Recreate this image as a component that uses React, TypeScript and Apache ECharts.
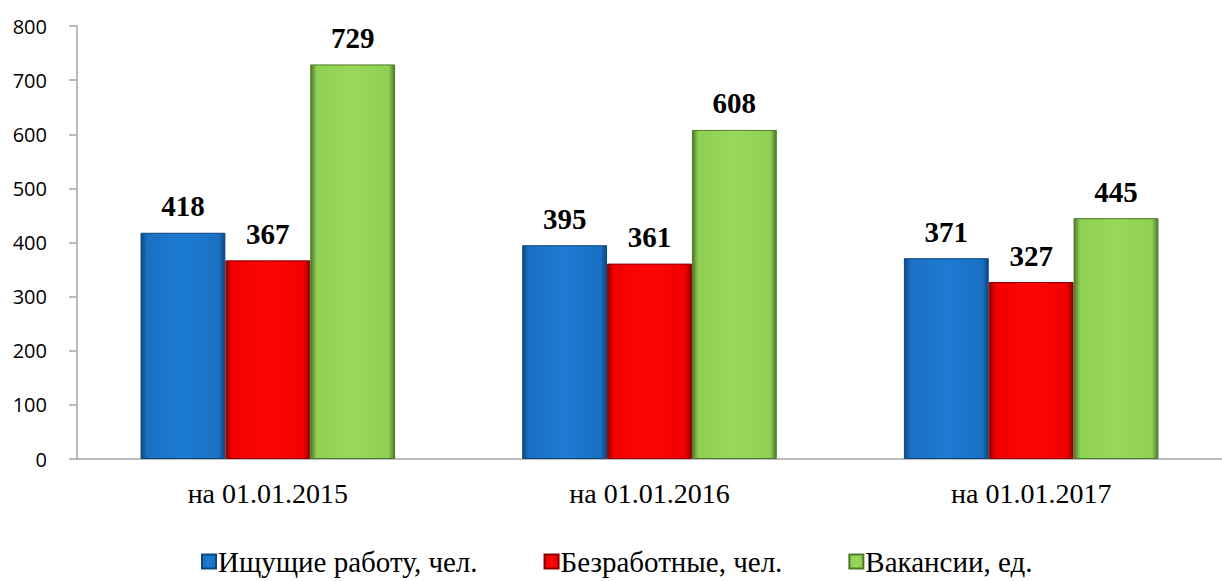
import React, { useEffect, useRef } from "react";
import * as echarts from "echarts";

const categories = ["на 01.01.2015", "на 01.01.2016", "на 01.01.2017"];
const seekers = [418, 395, 371];
const unemployed = [367, 361, 327];
const vacancies = [729, 608, 445];
const seriesNames = ["Ищущие работу, чел.", "Безработные, чел.", "Вакансии, ед."];

function bevel(dark: string, main: string, light: string) {
  return new echarts.graphic.LinearGradient(1, 0, 0, 0, [
    { offset: 0, color: dark },
    { offset: 0.07, color: main },
    { offset: 0.5, color: light },
    { offset: 0.93, color: main },
    { offset: 1, color: dark },
  ]);
}

export default function App() {
  const ref = useRef<HTMLDivElement>(null);
  useEffect(() => {
    document.body.style.margin = "0";
    const chart = echarts.init(ref.current!, undefined, { renderer: "svg" });
    const mk = (name: string, data: number[], dark: string, main: string, light: string) => ({
      name,
      type: "bar",
      data,
      barGap: "0%",
      barCategoryGap: "33.3%",
      label: {
        show: true,
        position: "top",
        distance: 12,
        fontFamily: "Liberation Serif",
        fontWeight: "bold",
        fontSize: 29,
        color: "#000",
      },
      itemStyle: { color: bevel(dark, main, light), borderColor: dark, borderWidth: 1 },
    });
    chart.setOption({
      animation: false,
      grid: { left: 77, right: -7, top: 26, bottom: 122 },
      legend: {
        top: 542,
        left: 196,
        itemWidth: 14,
        itemHeight: 14,
        itemGap: 66,
        icon: "rect",
        textStyle: { fontFamily: "Liberation Serif", fontSize: 29, color: "#000", padding: [0, 0, 0, -3] },
        data: seriesNames,
      },
      xAxis: {
        type: "category",
        data: categories,
        axisLine: { lineStyle: { color: "#a6a6a6", width: 1.5 } },
        axisTick: { length: 7, lineStyle: { color: "#a6a6a6", width: 1.5 } },
        axisLabel: { margin: 20, fontFamily: "Liberation Serif", fontSize: 28, color: "#000" },
      },
      yAxis: {
        type: "value",
        min: 0,
        max: 800,
        interval: 100,
        splitLine: { show: false },
        axisLine: { show: true, lineStyle: { color: "#a6a6a6", width: 1.5 } },
        axisTick: { show: true, length: 8, lineStyle: { color: "#a6a6a6", width: 1.5 } },
        axisLabel: { margin: 30, fontFamily: "Open Sans", fontSize: 20, color: "#000" },
      },
      series: [
        mk(seriesNames[0], seekers, "#0c4780", "#1a70c2", "#1d7bd3"),
        mk(seriesNames[1], unemployed, "#8a0000", "#f00000", "#ff0505"),
        mk(seriesNames[2], vacancies, "#4d7a2a", "#8fcf52", "#99d85a"),
      ],
    });
    return () => chart.dispose();
  }, []);
  return <div ref={ref} style={{ width: 1222, height: 581 }} />;
}
